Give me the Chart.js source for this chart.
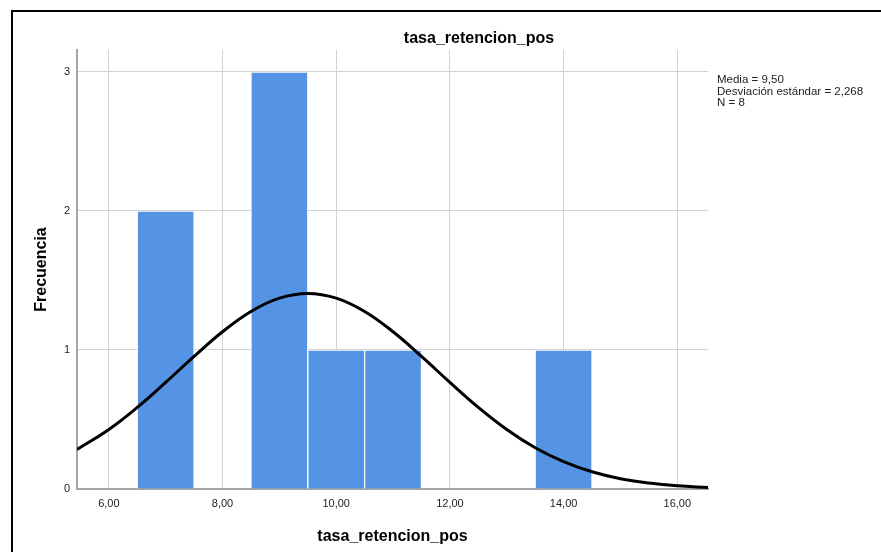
<!DOCTYPE html>
<html>
<head>
<meta charset="utf-8">
<script src="https://cdn.jsdelivr.net/npm/chart.js@4"></script>
<style>
  html, body { margin: 0; padding: 0; background: #fff; overflow: hidden; }
  #wrap { position: relative; width: 881px; height: 552px; }
  #frame { position: absolute; left: 11px; top: 10px; width: 900px; height: 600px; border: 2px solid #000; }
  #chart { position: absolute; left: 0; top: 0; }
</style>
</head>
<body>
<div id="wrap">
  <div id="frame"></div>
  <canvas id="chart" width="881" height="552"></canvas>
</div>
<script>
// Histogram data (bin width 1)
const chartTitle = 'tasa_retencion_pos';
const binCenters = [7, 9, 10, 11, 14];
const frequencies = [2, 3, 1, 1, 1];

// Normal curve
const curveX = [5.44, 6, 6.5, 7, 7.5, 8, 8.5, 9, 9.5, 10, 10.5, 11, 11.5, 12, 12.5, 13, 13.5, 14, 14.5, 15, 15.5, 16, 16.54];
const curveY = [0.284, 0.428, 0.587, 0.767, 0.954, 1.131, 1.277, 1.373, 1.407, 1.373, 1.277, 1.131, 0.954, 0.767, 0.587, 0.428, 0.297, 0.197, 0.124, 0.074, 0.043, 0.023, 0.011];

const xTickValues = [6, 8, 10, 12, 14, 16];
const yTickValues = [0, 1, 2, 3];
const statsLines = ['Media = 9,50', 'Desviación estándar = 2,268', 'N = 8'];

const FONT = "'Liberation Sans', Arial, sans-serif";

// Title and stats text (SPSS-style placement)
const textPlugin = {
  id: 'spssText',
  afterDraw(chart) {
    const { ctx, chartArea } = chart;
    ctx.save();
    ctx.fillStyle = '#000';
    ctx.font = 'bold 16px ' + FONT;
    ctx.textAlign = 'center';
    ctx.textBaseline = 'middle';
    ctx.fillText(chartTitle, (chartArea.left + chart.width) / 2, chartArea.top - 11);

    ctx.font = '11.5px ' + FONT;
    ctx.fillStyle = '#222';
    ctx.textAlign = 'left';
    ctx.textBaseline = 'alphabetic';
    statsLines.forEach((line, i) => {
      ctx.fillText(line, chartArea.right + 9, chartArea.top + 33 + i * 11.5);
    });
    ctx.restore();
  }
};

new Chart(document.getElementById('chart'), {
  data: {
    datasets: [
      {
        type: 'line',
        data: curveX.map((x, i) => ({ x, y: curveY[i] })),
        borderColor: '#000',
        borderWidth: 3,
        pointRadius: 0,
        tension: 0.4,
        fill: false,
        order: 0
      },
      {
        type: 'bar',
        data: binCenters.map((x, i) => ({ x, y: frequencies[i] })),
        backgroundColor: '#5594e5',
        borderColor: 'rgba(255,255,255,0.85)',
        borderWidth: 1,
        borderSkipped: 'bottom',
        barPercentage: 1,
        categoryPercentage: 1,
        order: 1
      }
    ]
  },
  options: {
    responsive: false,
    animation: false,
    layout: { padding: { left: 0, right: 173, top: 50, bottom: 0 } },
    plugins: {
      legend: { display: false },
      tooltip: { enabled: false },
      title: { display: false }
    },
    scales: {
      x: {
        type: 'linear',
        min: 5.44,
        max: 16.54,
        offset: false,
        afterBuildTicks: s => { s.ticks = xTickValues.map(v => ({ value: v })); },
        afterFit: s => { s.height = 63; },
        grid: { color: '#d2d2d2', lineWidth: 1, drawTicks: false, offset: false },
        border: { display: true, color: '#a6a6a6', width: 2 },
        ticks: {
          autoSkip: false,
          maxRotation: 0,
          padding: 8,
          color: '#222',
          font: { family: FONT, size: 11 },
          callback: v => v.toFixed(2).replace('.', ',')
        },
        title: {
          display: true,
          text: 'tasa_retencion_pos',
          color: '#000',
          font: { family: FONT, size: 16, weight: 'bold' },
          padding: { top: 0, bottom: 6 }
        }
      },
      y: {
        min: 0,
        max: 3.158,
        afterBuildTicks: s => { s.ticks = yTickValues.map(v => ({ value: v })); },
        afterFit: s => { s.width = 77; },
        grid: { color: '#d2d2d2', lineWidth: 1, drawTicks: false },
        border: { display: true, color: '#a6a6a6', width: 2 },
        ticks: {
          autoSkip: false,
          padding: 7,
          color: '#222',
          font: { family: FONT, size: 11 },
          callback: v => String(v)
        },
        title: {
          display: true,
          text: 'Frecuencia',
          color: '#000',
          font: { family: FONT, size: 16, weight: 'bold' },
          padding: { top: 32, bottom: 0 }
        }
      }
    }
  },
  plugins: [textPlugin]
});
</script>
</body>
</html>
